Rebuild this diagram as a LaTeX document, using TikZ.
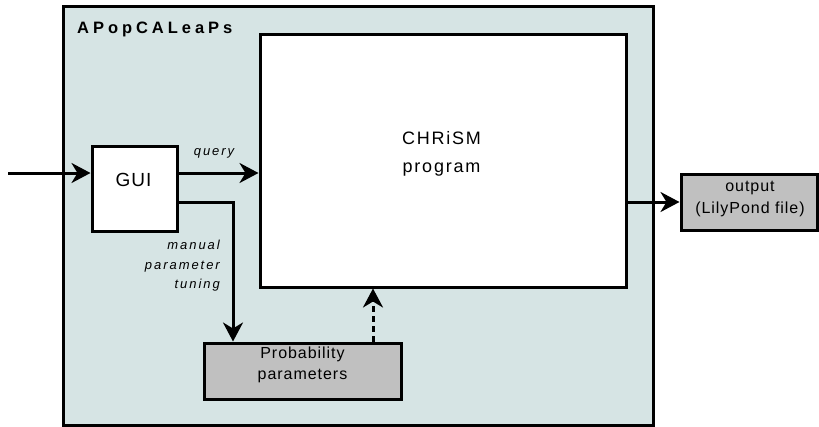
\documentclass[tikz,border=0pt]{standalone}
\usepackage{fontspec}
\setmainfont{Liberation Sans}
\newfontfamily\mainf[LetterSpace=6]{Liberation Sans}
\newfontfamily\chrf[LetterSpace=10]{Liberation Sans}
\newfontfamily\guif[LetterSpace=5]{Liberation Sans}
\newfontfamily\titlef[LetterSpace=24]{Liberation Sans}
\newfontfamily\labf[LetterSpace=15]{Liberation Sans}
\usetikzlibrary{arrows.meta,calc}
\definecolor{outerfill}{RGB}{214,228,228}
\definecolor{boxgrey}{RGB}{192,192,192}
\begin{document}
\begin{tikzpicture}[x=1pt,y=-1pt,
  blk/.style={draw=black,line width=3pt,rectangle,inner sep=0pt},
  whitebox/.style={blk,fill=white},
  greybox/.style={blk,fill=boxgrey},
  txt/.style={inner sep=0pt,align=center,font=\mainf\fontsize{16}{21.5}\selectfont},
  lab/.style={inner sep=0pt,font=\labf\itshape\fontsize{13}{19.5}\selectfont},
  arr/.style={line width=3pt,-{Stealth[length=19pt,width=20pt,inset=6pt]}},
]
\useasboundingbox (0,0) rectangle (819,426);
\begin{scope}
\clip (0,0) rectangle (819,426);
\node[blk,fill=outerfill,minimum width=590pt,minimum height=419.5pt] (outer) at (358,215.75) {};
\end{scope}
\node[inner sep=0pt,anchor=base west,font=\titlef\bfseries\fontsize{16.5}{20}\selectfont] (title) at (77,33) {APopCALeaPs};

\node[whitebox,minimum width=366pt,minimum height=253pt] (chrism) at (443,160.5) {};
\node[whitebox,minimum width=85pt,minimum height=85pt] (gui) at (134.5,188.5) {};
\node[greybox,minimum width=197pt,minimum height=56pt] (prob) at (302.5,371) {};
\node[greybox,minimum width=136pt,minimum height=56pt] (out) at (749,202) {};

\node[txt,font=\chrf\fontsize{18}{28}\selectfont] (chrismtxt) at (441.5,153.5) {CHRiSM\\program};
\node[txt,font=\guif\fontsize{19}{22}\selectfont] (guitxt) at (133.5,179.5) {GUI};
\node[txt] (probtxt) at (302.5,365) {Probability\\parameters};
\node[txt] (outtxt) at (750,199) {output\\(LilyPond file)};

\node[lab] (query) at (214,153) {query};
\node[lab,align=right,anchor=east] (manual) at (220,266) {manual\\parameter\\tuning};

\coordinate (in) at (8,173);
\coordinate (m) at (233,202);
\coordinate (d) at (373,0);
\draw[arr] (in) -- (in -| gui.west);
\draw[arr] (in -| gui.east) -- (in -| chrism.west);
\draw[arr] (chrism.east |- out.west) -- (out.west);
\draw[arr] (gui.east |- m) -- (m) -- (m |- prob.north);
\draw[arr,dash pattern=on 6pt off 4pt] (d |- prob.north) -- (d |- chrism.south);
\end{tikzpicture}
\end{document}
